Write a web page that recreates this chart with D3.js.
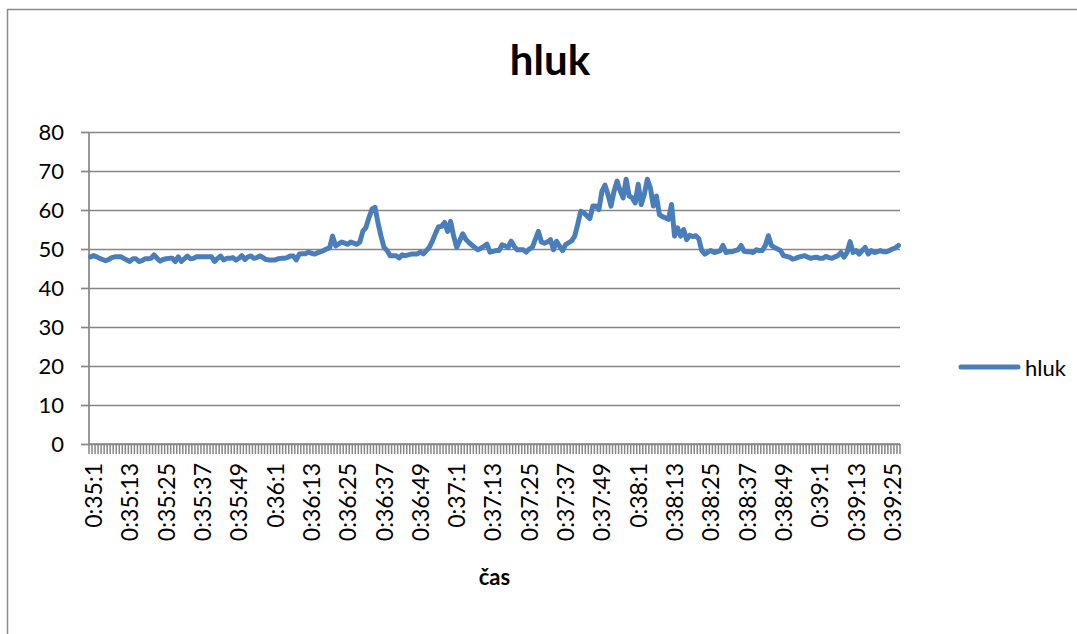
<!DOCTYPE html>
<html>
<head>
<meta charset="utf-8">
<script src="https://cdn.jsdelivr.net/npm/d3@7/dist/d3.min.js"></script>
<style>
  body { margin: 0; background: #fff; }
  svg { display: block; }
  text { font-family: Lato, "Open Sans", sans-serif; fill: #000; }
</style>
</head>
<body>
<svg id="chart" width="1077" height="634"></svg>
<script>
// Noise level (hluk) sampled once per second, 0:35:1 – 0:39:28
const startSecond = 35 * 60 + 1;
const hluk = [
  48, 48.3, 48, 47.6, 47.3, 47, 47.3, 47.8, 48, 48,
  48, 47.6, 47.2, 46.8, 47.5, 47.5, 46.8, 47, 47.5, 47.5,
  47.6, 48.5, 47.6, 46.9, 47.3, 47.5, 47.6, 47.6, 46.8, 48,
  46.8, 47.5, 48.2, 47.5, 47.6, 48, 48, 48, 48, 48,
  48, 46.8, 47.6, 48.2, 47.2, 47.6, 47.6, 47.8, 47.2, 47.6,
  48.3, 47.3, 48, 48.2, 47.6, 47.8, 48.2, 47.8, 47.3, 47.2,
  47.2, 47.2, 47.5, 47.6, 47.6, 47.8, 48.2, 48.2, 47.2, 48.7,
  48.8, 48.8, 49.2, 48.9, 48.7, 49, 49.3, 49.6, 50, 50.3,
  53.3, 50.8, 51.3, 51.8, 51.5, 51.2, 51.8, 51.5, 51.2, 51.8,
  54.6, 55.5, 58, 60.2, 60.7, 56.7, 53.3, 50.4, 49.6, 48.3,
  48.3, 48.3, 47.7, 48.5, 48.3, 48.5, 48.7, 48.75, 48.75, 49.2,
  48.75, 49.6, 50.5, 52.1, 54, 55.7, 55.8, 56.8, 54.5, 57.1,
  53.3, 50.4, 52.1, 53.9, 52.5, 51.7, 51, 50.4, 49.8, 50.2,
  50.7, 51.25, 49.2, 49.4, 49.6, 49.6, 51.1, 50.8, 50.4, 52,
  50.7, 49.8, 49.8, 49.8, 49.2, 50, 50.4, 52.5, 54.5, 51.8,
  51.5, 51.8, 52.4, 49.8, 52, 50.7, 49.6, 51.1, 51.6, 52.1,
  53.3, 56.3, 59.7, 59.3, 58.5, 57.8, 61, 61, 60.1, 64.8,
  66.4, 64, 61, 64.8, 67.4, 65, 63.1, 67.9, 63.6, 63.1,
  61.8, 66.6, 61.4, 64, 67.9, 65.7, 61, 63.6, 58.8, 58.3,
  58, 57.6, 61.4, 53.3, 55.4, 53.3, 55, 52.4, 53.5, 53.2,
  53.4, 52.6, 49.6, 48.7, 49.2, 49.6, 49.1, 49.3, 49.5, 50.9,
  49.1, 49.3, 49.3, 49.6, 49.8, 50.9, 49.4, 49.3, 49.3, 49.1,
  49.8, 49.6, 49.6, 50.9, 53.4, 50.9, 50.4, 50, 49.6, 48.3,
  48.1, 47.9, 47.4, 47.6, 47.9, 48.1, 48.3, 47.9, 47.6, 47.8,
  47.9, 47.6, 47.6, 48.1, 47.8, 47.6, 48, 48.3, 49.1, 47.9,
  49.1, 51.9, 49.1, 49.6, 48.7, 49.6, 50.4, 48.7, 49.6, 49.1,
  49.3, 49.6, 49.3, 49.3, 49.6, 50, 50.3, 50.9
];

// One category per second, labelled h:m:s without zero padding
const categories = hluk.map((_, k) => {
  const s = startSecond + k;
  return `0:${Math.floor(s / 60)}:${s % 60}`;
});

const tickLabels = [
  "0:35:1", "0:35:13", "0:35:25", "0:35:37", "0:35:49",
  "0:36:1", "0:36:13", "0:36:25", "0:36:37", "0:36:49",
  "0:37:1", "0:37:13", "0:37:25", "0:37:37", "0:37:49",
  "0:38:1", "0:38:13", "0:38:25", "0:38:37", "0:38:49",
  "0:39:1", "0:39:13", "0:39:25"
];
const yTicks = [0, 10, 20, 30, 40, 50, 60, 70, 80];

const chartTitle = "hluk";
const axisTitle = "čas";
const seriesName = "hluk";

const gridColor = "#868686";
const lineColor = "#4a7ebb";

const svg = d3.select("#chart");

// Outer chart frame
svg.append("rect")
  .attr("x", 7.5).attr("y", 9.5)
  .attr("width", 1100).attr("height", 650)
  .attr("fill", "none").attr("stroke", "#8c8c8c").attr("stroke-width", 1.5);

const plot = { left: 89, right: 900, top: 132, bottom: 444 };

const x = d3.scaleBand().domain(categories).range([plot.left, plot.right]).padding(0);
const y = d3.scaleLinear().domain([0, 80]).range([plot.bottom, plot.top]);
const cx = c => x(c) + x.bandwidth() / 2;

// Horizontal gridlines
const grid = svg.append("g")
  .attr("transform", `translate(${plot.left},0)`)
  .call(d3.axisLeft(y).tickValues(yTicks).tickSize(-(plot.right - plot.left)).tickFormat(""));
grid.select(".domain").remove();
grid.selectAll(".tick line").attr("stroke", gridColor).attr("stroke-width", 1.7);

// Value axis with outside ticks and labels
const yAxis = svg.append("g")
  .attr("transform", `translate(${plot.left},0)`)
  .call(d3.axisLeft(y).tickValues(yTicks).tickSize(8).tickPadding(17));
yAxis.select(".domain").attr("stroke", gridColor).attr("stroke-width", 1.7)
  .attr("d", `M0,${plot.top}V${plot.bottom}`);
yAxis.selectAll(".tick line").attr("stroke", gridColor).attr("stroke-width", 1.7);
yAxis.selectAll(".tick text")
  .style("font-family", "Lato, 'Open Sans', sans-serif")
  .style("font-size", "22px").attr("fill", "#000");

// Category tick marks on every category boundary
const boundaries = categories.map(c => x(c)).concat([plot.right]);
svg.append("g").selectAll("line")
  .data(boundaries)
  .join("line")
  .attr("x1", d => d).attr("x2", d => d)
  .attr("y1", plot.bottom).attr("y2", plot.bottom + 10)
  .attr("stroke", gridColor).attr("stroke-width", 1.5);

// Category axis line
svg.append("line")
  .attr("x1", plot.left).attr("x2", plot.right)
  .attr("y1", plot.bottom).attr("y2", plot.bottom)
  .attr("stroke", gridColor).attr("stroke-width", 1.7);

// Category labels, rotated
const xAxis = svg.append("g")
  .attr("transform", `translate(0,${plot.bottom})`)
  .call(d3.axisBottom(x).tickValues(tickLabels).tickSize(0));
xAxis.select(".domain").remove();
xAxis.selectAll(".tick text")
  .style("font-family", "Lato, 'Open Sans', sans-serif")
  .style("font-size", "23px").attr("fill", "#000")
  .attr("text-anchor", "end")
  .attr("dy", null)
  .attr("y", 0)
  .attr("dominant-baseline", "central")
  .attr("transform", "translate(2.5,19) rotate(-90)");

// Data line
const line = d3.line()
  .x((d, k) => cx(categories[k]))
  .y(d => y(d));
svg.append("path")
  .datum(hluk)
  .attr("d", line)
  .attr("fill", "none")
  .attr("stroke", lineColor)
  .attr("stroke-width", 5)
  .attr("stroke-linejoin", "round")
  .attr("stroke-linecap", "round");

// Titles
svg.append("text")
  .attr("x", 550).attr("y", 75)
  .attr("text-anchor", "middle")
  .style("font-size", "42px").style("font-weight", "bold")
  .text(chartTitle);

svg.append("text")
  .attr("x", (plot.left + plot.right) / 2).attr("y", 585)
  .attr("text-anchor", "middle")
  .style("font-size", "22px").style("font-weight", "bold")
  .text(axisTitle);

// Legend
const legend = svg.append("g").attr("transform", "translate(961,367)");
legend.append("line")
  .attr("x1", 0).attr("x2", 57).attr("y1", 0).attr("y2", 0)
  .attr("stroke", lineColor).attr("stroke-width", 5).attr("stroke-linecap", "round");
legend.append("text")
  .attr("x", 64).attr("y", 0)
  .attr("dominant-baseline", "central")
  .style("font-size", "22px")
  .text(seriesName);
</script>
</body>
</html>
